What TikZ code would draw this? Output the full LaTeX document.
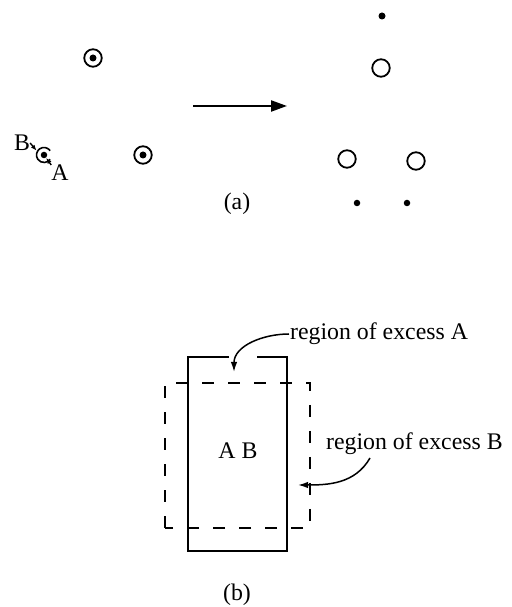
\documentclass[tikz,border=0pt]{standalone}
\usepackage{fontspec}
\setmainfont{Liberation Serif}
\usepackage{tikz}
\usetikzlibrary{arrows.meta,positioning,calc}

\begin{document}
\begin{tikzpicture}[
  x=1pt, y=1pt,
  txt/.style={inner sep=0pt, font=\fontsize{23.8}{28}\selectfont},
  site/.style={circle, draw, line width=1.8pt, minimum size=17.5pt, inner sep=0pt,
    path picture={\fill (path picture bounding box.center) circle (3.5pt);}},
  hole/.style={circle, draw, line width=1.8pt, minimum size=17.5pt, inner sep=0pt},
  spot/.style={circle, fill, minimum size=7pt, inner sep=0pt},
  tip/.style={-{Latex[length=10pt,width=6.5pt]}, line width=1.5pt},
  small tip/.style={-{Latex[length=6pt,width=4.5pt]}, line width=1.4pt},
  dashbox/.style={line width=1.7pt, dash pattern=on 12pt off 14pt},
  solidbox/.style={line width=2.2pt}
]
  \useasboundingbox (0,0) rectangle (511,607);

  \node[site] (s1) at (93,549) {};
  \node[site] (s2) at (143,452) {};
  \node[spot, minimum size=6.5pt] (s3) at (44,452) {};
  \draw[line width=1.6pt] ([shift={(35:7.5)}]s3.center) arc (35:325:7.5);
  \coordinate (s3rim) at ([shift={(150:8.5)}]s3.center);
  \node[txt] (labB) at (22,464) {B};
  \node[txt] (labA) at (60,434) {A};
  \draw[small tip] (labB.east) -- (s3rim);
  \draw[small tip] (labA.north west) -- (s3);

  \coordinate (go) at (193,501);
  \coordinate (to) at (287,501);
  \draw[line width=2.2pt, -{Triangle[length=16pt,width=11pt]}] (go) -- (to);

  \node[spot] (d1) at (382,591) {};
  \node[hole] (h1) at (381,539) {};
  \node[hole] (h2) at (347,448) {};
  \node[hole] (h3) at (416,446) {};
  \node[spot, minimum size=6.5pt] (d2) at (357,404) {};
  \node[spot, minimum size=6.5pt] (d3) at (407,404) {};
  \node[txt] (capa) at (237,403) {(a)};

  \draw[solidbox] (229,250) -| (188,56) -| (287,250) -- (257,250);
  \draw[dashbox] (165,79) rectangle (310,224);
  \node[txt] (ab) at (238,156.5) {A B};
  \node[txt, anchor=base west] (exA) at (290,267) {region of excess A};
  \node[txt, anchor=base west] (exB) at (326,157) {region of excess B};
  \coordinate (inA) at (234,235);
  \coordinate (inB) at (298,122);
  \draw[tip] ([xshift=-1pt,yshift=6pt]exA.base west) to[out=180, in=90] (inA);
  \draw[tip] (370,149) to[out=240, in=0] (inB);
  \node[txt] (capb) at (237,12) {(b)};
\end{tikzpicture}
\end{document}
